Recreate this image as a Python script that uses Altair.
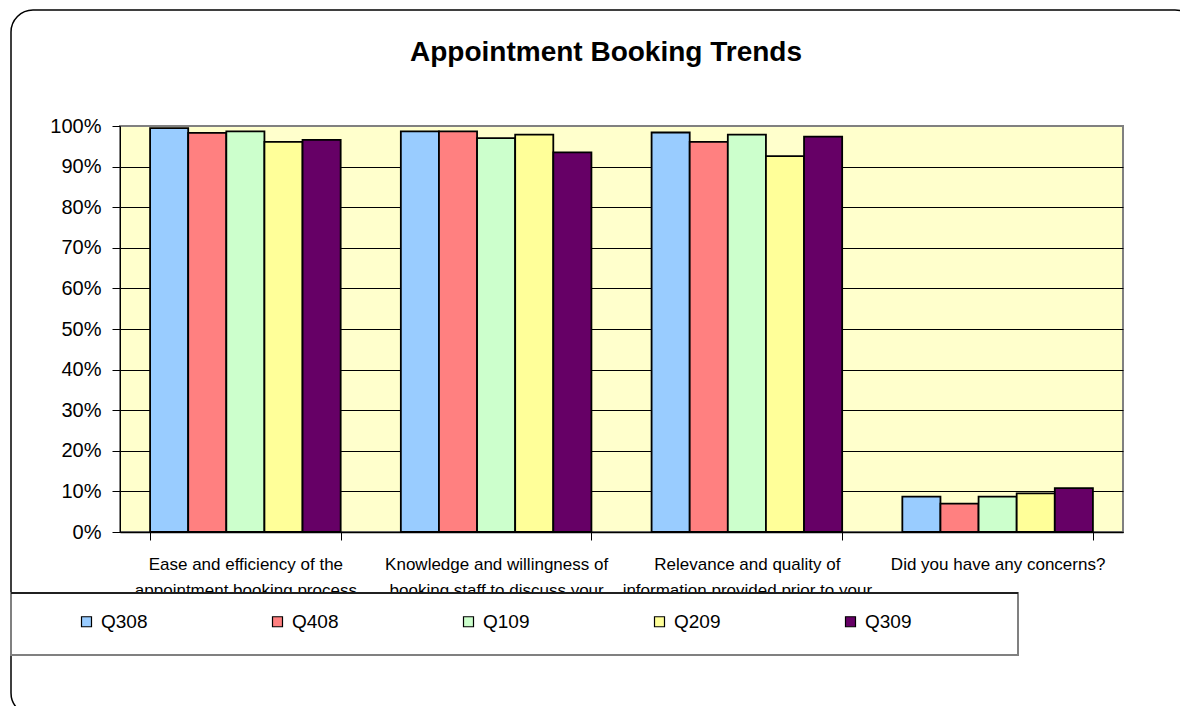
import altair as alt
import pandas as pd

categories = [
    "Ease and efficiency of the|appointment booking process",
    "Knowledge and willingness of|booking staff to discuss your",
    "Relevance and quality of|information provided prior to your",
    "Did you have any concerns?",
]
series = ["Q308", "Q408", "Q109", "Q209", "Q309"]
colors = ["#99CCFF", "#FF8080", "#CCFFCC", "#FFFF99", "#660066"]
q308 = [0.995, 0.987, 0.984, 0.087]
q408 = [0.983, 0.987, 0.961, 0.070]
q109 = [0.987, 0.970, 0.979, 0.087]
q209 = [0.961, 0.979, 0.926, 0.095]
q309 = [0.966, 0.935, 0.974, 0.108]
y_ticks = [0.0, 0.1, 0.2, 0.3, 0.4, 0.5, 0.6, 0.7, 0.8, 0.9, 1.0]
title_text = "Appointment Booking Trends"

values = {"Q308": q308, "Q408": q408, "Q109": q109, "Q209": q209, "Q309": q309}
rows = []
for s in series:
    for c, v in zip(categories, values[s]):
        rows.append({"category": c, "series": s, "value": v})
df = pd.DataFrame(rows)
one = pd.DataFrame({"a": [0]})

FONT = "Liberation Sans"

outer = alt.Chart(one).mark_rect(
    fill="transparent", stroke="black", strokeWidth=1.5, cornerRadius=22
).encode(
    x=alt.value(-109), x2=alt.value(1077), y=alt.value(-116), y2=alt.value(589)
)

bars = alt.Chart(df).mark_bar(stroke="black", strokeWidth=1.8).encode(
    x=alt.X(
        "category:N",
        sort=categories,
        scale=alt.Scale(paddingInner=0.24, paddingOuter=0.12),
        axis=alt.Axis(
            title=None,
            labelExpr="split(datum.label, '|')",
            labelAngle=0,
            tickBand="extent",
            labelFont=FONT,
            labelFontSize=17,
            labelLineHeight=26,
            labelPadding=16,
            labelLimit=0,
            labelOverlap=False,
            labelColor="black",
            tickSize=8,
            tickColor="black",
            domainColor="black",
            domainWidth=1.5,
            grid=False,
        ),
    ),
    xOffset=alt.XOffset(
        "series:N", sort=series, scale=alt.Scale(paddingInner=0, paddingOuter=0)
    ),
    y=alt.Y(
        "value:Q",
        scale=alt.Scale(domain=[0, 1], nice=False),
        axis=alt.Axis(
            title=None,
            values=y_ticks,
            format=".0%",
            labelFont=FONT,
            labelFontSize=20,
            labelColor="black",
            labelPadding=11,
            tickSize=8,
            tickColor="black",
            domainColor="black",
            grid=True,
            gridColor={"condition": {"test": "datum.value >= 1", "value": "#808080"}, "value": "black"},
            gridWidth=1,
        ),
    ),
    color=alt.Color(
        "series:N",
        sort=series,
        scale=alt.Scale(domain=series, range=colors),
        legend=alt.Legend(
            title=None,
            orient="none",
            legendX=-43,
            legendY=486,
            direction="horizontal",
            symbolType="square",
            symbolSize=100,
            symbolStrokeColor="black",
            symbolStrokeWidth=1.2,
            symbolOpacity=1,
            labelFont=FONT,
            labelFontSize=19,
            labelColor="black",
            labelOffset=5,
            columnPadding=120,
            padding=0,
            zindex=1,
        ),
    ),
)

legend_box = alt.Chart(one).mark_rect(
    fill="white", stroke="#808080", strokeWidth=2
).encode(
    x=alt.value(-109), x2=alt.value(898), y=alt.value(467), y2=alt.value(529)
)
legend_top = alt.Chart(one).mark_rule(color="black", strokeWidth=1.5).encode(
    x=alt.value(-109), x2=alt.value(898), y=alt.value(467)
)

title = alt.Chart(one).mark_text(
    text=title_text, font=FONT, fontSize=28, fontWeight="bold",
    align="center", baseline="alphabetic", color="black"
).encode(x=alt.value(486), y=alt.value(-65))

chart = alt.layer(outer, bars, legend_box, legend_top, title).properties(
    width=1003,
    height=406,
    padding={"left": 112, "top": 118, "right": 57, "bottom": 174},
    autosize=alt.AutoSizeParams(type="none"),
    background="white",
).configure_view(
    fill="#FFFFCC", stroke="#808080", strokeWidth=2
)

chart.save("out.html", embed_options={"renderer": "svg", "actions": False})
